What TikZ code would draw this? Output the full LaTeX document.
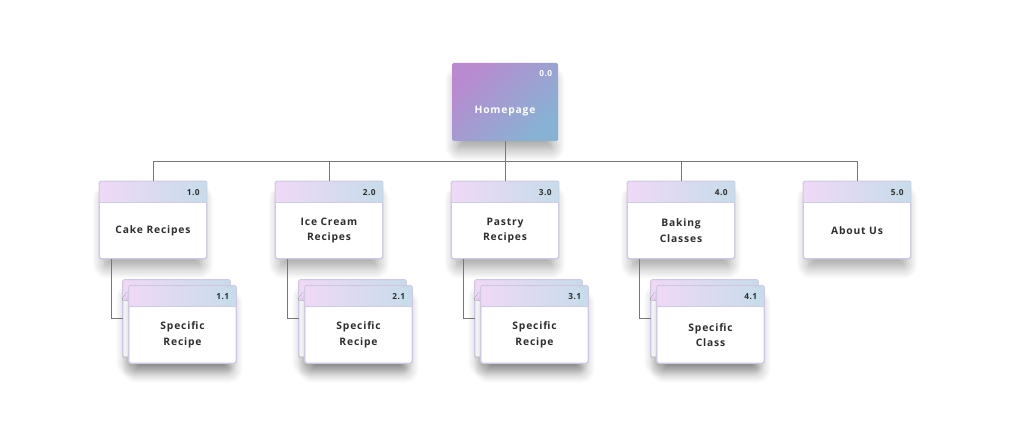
\documentclass[tikz,border=0pt]{standalone}
\usepackage{fontspec}
\setmainfont{Open Sans}
\usepackage{tikz}
\usetikzlibrary{
  positioning,
  shadows.blur
}
\usepackage{xcolor}

\definecolor{homeA}{HTML}{B98AD0}
\definecolor{homeB}{HTML}{86B3D3}
\definecolor{headA}{HTML}{EFD9F6}
\definecolor{headB}{HTML}{C6DCEA}
\definecolor{edgecol}{HTML}{CFC8E2}
\definecolor{linkcol}{HTML}{777777}
\definecolor{textcol}{HTML}{2E2E2E}

\tikzset{
  card/.style={rectangle, draw=edgecol, fill=white, line width=0.8pt,
    minimum width=107pt, minimum height=77pt, inner sep=0pt, rounded corners=1.5pt,
    blur shadow={shadow xshift=0pt, shadow yshift=-13pt, shadow scale=0.9,
      shadow blur radius=14pt, shadow blur steps=14, shadow opacity=40}},
  cardhead/.style={left color=headA, right color=headB},
  cardedge/.style={draw=edgecol, line width=0.8pt, rounded corners=1.5pt},
  cardnum/.style={font=\fontsize{8.3}{10}\selectfont\bfseries\addfontfeature{LetterSpace=6}, text=textcol, inner sep=0pt, anchor=east},
  cardtitle/.style={font=\fontsize{10.3}{15.5}\selectfont\bfseries\addfontfeature{LetterSpace=8}, text=textcol, align=center, inner sep=0pt},
  link/.style={draw=linkcol, line width=0.8pt}
}

% one page card: name, x, y, number, title
\newcommand{\pagecard}[5]{%
  \node[card] (#1) at (#2,#3) {};
  \shade[cardhead] ([shift={(0.4pt,-0.4pt)}]#1.north west) rectangle ([shift={(-0.4pt,-21pt)}]#1.north east);
  \draw[edgecol!80!headB, line width=0.8pt] ([yshift=-21pt]#1.north west) -- ([yshift=-21pt]#1.north east);
  \draw[cardedge] (#1.north west) rectangle (#1.south east);
  \node[cardnum] at ([shift={(-7pt,-11pt)}]#1.north east) {#4};
  \node[cardtitle] at ([yshift=-10.5pt]#1.center) {#5};
}

\begin{document}
\begin{tikzpicture}[x=1pt, y=-1pt]
    \useasboundingbox (0,0) rectangle (1009,425);

    % homepage
    \node[card, draw=none, top color=homeA, bottom color=homeB, shading angle=45,
      minimum width=106pt, minimum height=78pt] (home) at (505,102) {};
    \node[cardnum, text=white] at ([shift={(-6pt,-11pt)}]home.north east) {0.0};
    \node[cardtitle, text=white] at ([yshift=-9pt]home.center) {Homepage};

    % first level
    \pagecard{cake}{153}{220}{1.0}{Cake Recipes}
    \pagecard{icecream}{329}{220}{2.0}{Ice Cream\\Recipes}
    \pagecard{pastry}{505}{220}{3.0}{Pastry\\Recipes}
    \pagecard{baking}{681}{220}{4.0}{Baking\\Classes}
    \pagecard{about}{857}{220}{5.0}{About Us}

    % second level, a stack of two cards each
    \foreach \name/\x/\num/\title in {cake/182.5/1.1/Specific\\Recipe,
        icecream/358.5/2.1/Specific\\Recipe,
        pastry/534.5/3.1/Specific\\Recipe,
        baking/710.5/4.1/Specific\\Class}{
      \pagecard{\name back}{\x-6}{318.5}{}{}
      \pagecard{\name spec}{\x}{324.5}{\num}{\title}
    }

    % connectors
    \coordinate (bus) at (505,161);
    \draw[link] (home.south) -- (home.south |- bus);
    \draw[link] (cake.north |- bus) -- (about.north |- bus);
    \foreach \name in {cake, icecream, pastry, baking, about}
      \draw[link] (\name.north) -- (\name.north |- bus);
    \foreach \name in {cake, icecream, pastry, baking}
      \draw[link] ([xshift=12pt]\name.south west) |- (\name back.west);

\end{tikzpicture}
\end{document}
